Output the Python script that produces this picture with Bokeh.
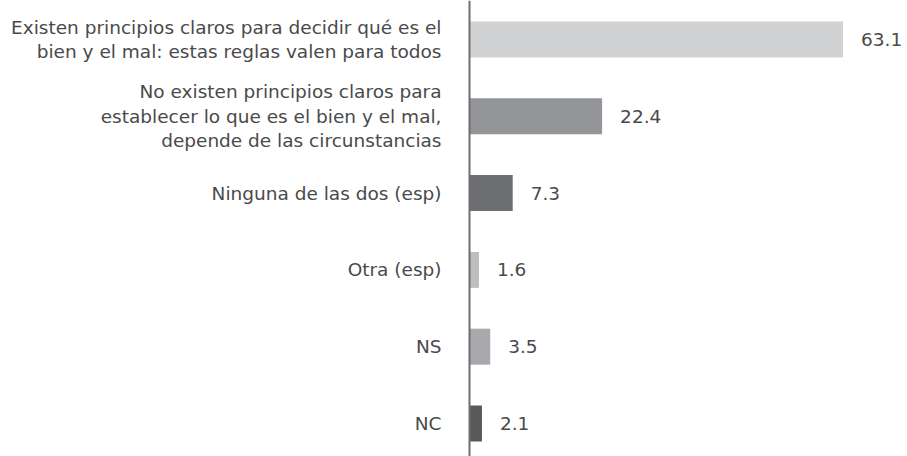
from bokeh.plotting import figure
from bokeh.models import ColumnDataSource, Range1d, Span
from bokeh.embed import file_html
from bokeh.resources import INLINE
from bokeh.core.properties import value

categories = [
    "Existen principios claros para decidir qué es el\nbien y el mal: estas reglas valen para todos",
    "No existen principios claros para\nestablecer lo que es el bien y el mal,\ndepende de las circunstancias",
    "Ninguna de las dos (esp)",
    "Otra (esp)",
    "NS",
    "NC",
]
values = [63.1, 22.4, 7.3, 1.6, 3.5, 2.1]
colors = ["#d1d2d4", "#939598", "#6d6e71", "#bcbec0", "#a7a9ac", "#58595b"]

pos = list(range(len(values)))
src = ColumnDataSource(dict(
    y=pos, v=values, cat=categories, color=colors,
    lbl=[f"{x:.1f}" for x in values], zero=[0] * len(values),
))

W, H = 907, 456
scale = 5.92
x0 = 469
step = 76.8
top = 39
p = figure(width=W, height=H, output_backend="svg", toolbar_location=None,
           x_range=Range1d(-x0 / scale, (W - x0) / scale),
           y_range=Range1d((H - top) / step, -top / step),
           min_border=0)
p.axis.visible = False
p.grid.visible = False
p.outline_line_color = None
p.background_fill_color = "white"
p.border_fill_color = "white"

p.hbar(y="y", left=0, right="v", height=36 / step, color="color", source=src, line_color=None)
p.add_layout(Span(location=0, dimension="height", line_color="#6d6e71", line_width=2))

font = value("DejaVu Sans")
p.text(x="zero", y="y", text="cat", source=src, x_offset=-28, text_align="right",
       text_baseline="middle", text_font=font, text_font_size="18.5px",
       text_color="#4a4a4a", text_line_height=1.16)
p.text(x="v", y="y", text="lbl", source=src, x_offset=18, text_align="left",
       text_baseline="middle", text_font=font, text_font_size="18.5px",
       text_color="#4a4a4a")

open("out.html", "w").write(file_html(p, INLINE))
